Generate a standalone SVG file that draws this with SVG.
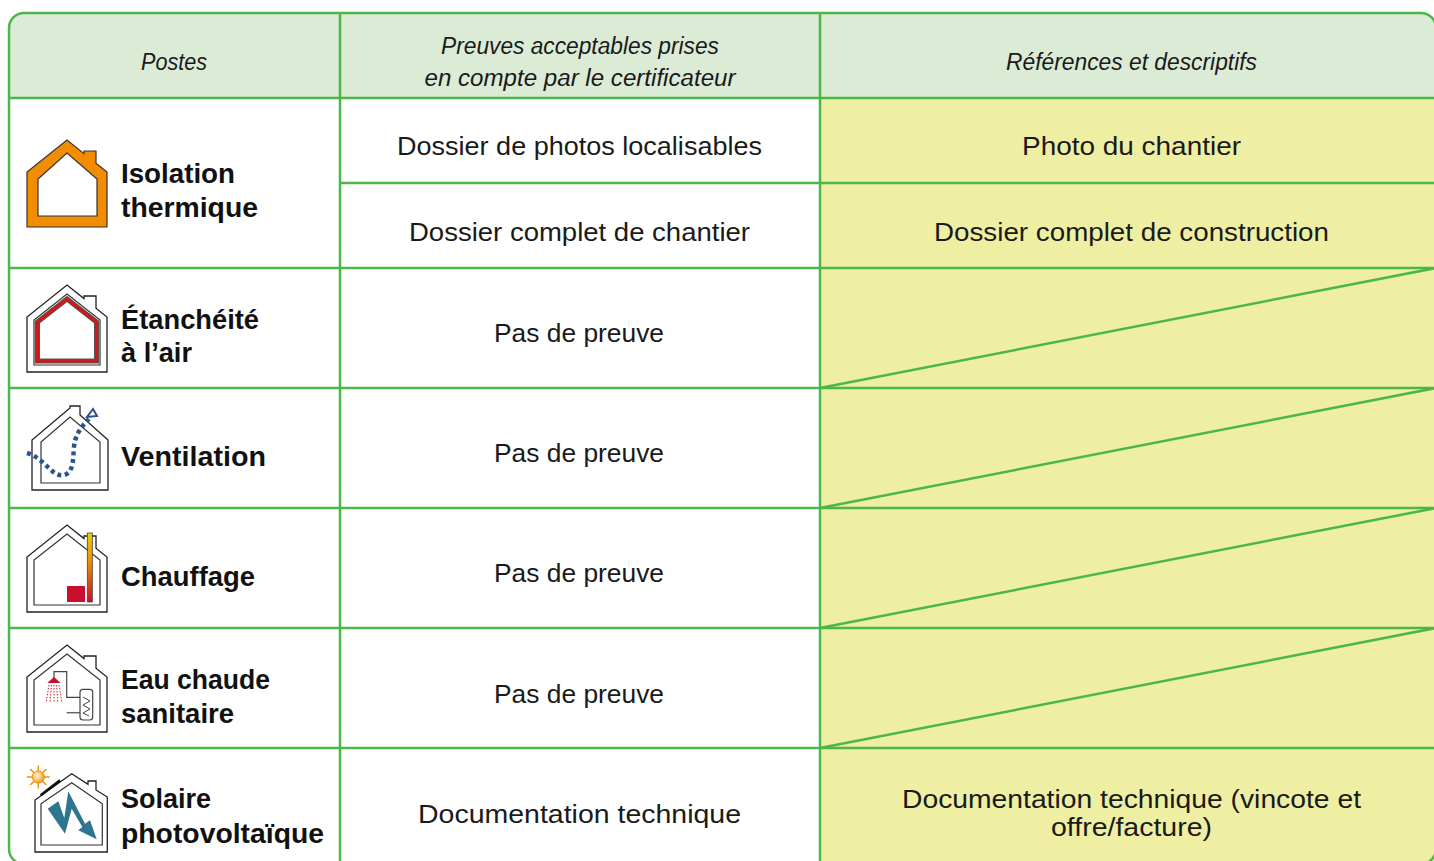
<svg xmlns="http://www.w3.org/2000/svg" width="1434" height="861" viewBox="0 0 1434 861">
<style>
.g{stroke:#4cb748;stroke-width:2.5;fill:none}
.h{font-family:"Liberation Sans",Arial,sans-serif;font-style:italic;font-size:23px;fill:#1a1a1a;text-anchor:middle}
.t{font-family:"Liberation Sans",Arial,sans-serif;font-size:26px;fill:#1a1a1a;text-anchor:middle}
.b{font-family:"Liberation Sans",Arial,sans-serif;font-weight:bold;font-size:27px;fill:#111}
.ho{fill:#fff;stroke:#222;stroke-width:1.3;stroke-linejoin:miter}
.hi{fill:none;stroke:#333;stroke-width:1.2}
</style>
<defs>
<linearGradient id="chem" x1="0" y1="0" x2="0" y2="1">
<stop offset="0" stop-color="#e6d400"/>
<stop offset="0.45" stop-color="#ef8a00"/>
<stop offset="1" stop-color="#c5102b"/>
</linearGradient>
<radialGradient id="sun" cx="0.4" cy="0.4" r="0.7">
<stop offset="0" stop-color="#fff6d0"/>
<stop offset="1" stop-color="#f08c00"/>
</radialGradient>
</defs>
<rect width="1434" height="861" fill="#fff"/>
<g id="table">
<path d="M9,98 V28 Q9,13 24,13 H1421 Q1436,13 1436,28 V98 Z" fill="#dbebd6"/>
<rect x="820" y="98" width="616" height="766" fill="#eeefa3"/>
</g>
<g id="connectors" class="g">
<rect x="9" y="13" width="1427" height="851" rx="15"/>
<line x1="340" y1="13" x2="340" y2="864"/>
<line x1="820" y1="13" x2="820" y2="864"/>
<line x1="9" y1="98" x2="1436" y2="98"/>
<line x1="340" y1="183" x2="1436" y2="183"/>
<line x1="9" y1="268" x2="1436" y2="268"/>
<line x1="9" y1="388" x2="1436" y2="388"/>
<line x1="9" y1="508" x2="1436" y2="508"/>
<line x1="9" y1="628" x2="1436" y2="628"/>
<line x1="9" y1="748" x2="1436" y2="748"/>
<line x1="820" y1="388" x2="1436" y2="268"/>
<line x1="820" y1="508" x2="1436" y2="388"/>
<line x1="820" y1="628" x2="1436" y2="508"/>
<line x1="820" y1="748" x2="1436" y2="628"/>
</g>
<g id="header">
<text class="h" x="174" y="70" textLength="66" lengthAdjust="spacingAndGlyphs">Postes</text>
<text class="h" x="580" y="54" textLength="278" lengthAdjust="spacingAndGlyphs">Preuves acceptables prises</text>
<text class="h" x="580" y="86" textLength="311" lengthAdjust="spacingAndGlyphs">en compte par le certificateur</text>
<text class="h" x="1131.5" y="70" textLength="251" lengthAdjust="spacingAndGlyphs">Références et descriptifs</text>
</g>
<g id="row-isolation">
<path fill="#f28c00" fill-rule="evenodd" stroke="#333" stroke-width="1.2" d="M27,227 V172 L67,140 L84,153.6 V151 H96 V163.2 L107,172 V227 Z M38,216 V179 L67,153 L97,179 V216 Z"/>
<text class="b" x="121" y="183" textLength="114" lengthAdjust="spacingAndGlyphs">Isolation</text>
<text class="b" x="121" y="217" textLength="137" lengthAdjust="spacingAndGlyphs">thermique</text>
<text class="t" x="579.5" y="155" textLength="365" lengthAdjust="spacingAndGlyphs">Dossier de photos localisables</text>
<text class="t" x="1131.5" y="155" textLength="219" lengthAdjust="spacingAndGlyphs">Photo du chantier</text>
<text class="t" x="579.5" y="241" textLength="341" lengthAdjust="spacingAndGlyphs">Dossier complet de chantier</text>
<text class="t" x="1131.5" y="241" textLength="395" lengthAdjust="spacingAndGlyphs">Dossier complet de construction</text>
</g>
<g id="row-etancheite">
<path class="ho" d="M27,372 V317 L67,285 L84,298.6 V296 H96 V308.2 L107,317 V372 Z"/>
<path class="hi" d="M34,365 V320 L67,294 L100,320 V365 Z"/>
<path fill="none" stroke="#555" stroke-width="5" d="M37.5,361 V322 L67,299 L96.5,322 V361 Z"/>
<path fill="none" stroke="#cc1a1a" stroke-width="3.2" d="M37.5,361 V322 L67,299 L96.5,322 V361 Z"/>
<text class="b" x="121" y="329" textLength="138" lengthAdjust="spacingAndGlyphs">Étanchéité</text>
<text class="b" x="121" y="362" textLength="71" lengthAdjust="spacingAndGlyphs">à l’air</text>
<text class="t" x="579" y="342" textLength="170" lengthAdjust="spacingAndGlyphs">Pas de preuve</text>
</g>
<g id="row-ventilation">
<path class="ho" d="M32,490 V440 L70,408 V406 H80 V415 L108,440 V490 Z"/>
<path class="hi" d="M41,483 V442 L70,417 L100,442 V483 Z"/>
<path fill="none" stroke="#2a5490" stroke-width="4.5" stroke-dasharray="4 3.5" d="M27,453 C45,458 52,478 64,475 C76,472 72,452 75,441 C78,430 84,424 89,419"/>
<polygon points="93,409 87,417 97,416" fill="#fff" stroke="#2a5490" stroke-width="2"/>
<text class="b" x="121" y="466" textLength="145" lengthAdjust="spacingAndGlyphs">Ventilation</text>
<text class="t" x="579" y="462" textLength="170" lengthAdjust="spacingAndGlyphs">Pas de preuve</text>
</g>
<g id="row-chauffage">
<path class="ho" d="M27,612 V557 L67,525 L84,538.6 V536 H96 V548.2 L107,557 V612 Z"/>
<path class="hi" d="M34,605 V560 L67,534 L100,560 V605 Z"/>
<rect x="67" y="586" width="18" height="16" fill="#c8102e"/>
<rect x="87.3" y="533" width="5" height="69" fill="url(#chem)" stroke="#444" stroke-width="0.8"/>
<text class="b" x="121" y="586" textLength="134" lengthAdjust="spacingAndGlyphs">Chauffage</text>
<text class="t" x="579" y="582" textLength="170" lengthAdjust="spacingAndGlyphs">Pas de preuve</text>
</g>
<g id="row-eau-chaude">
<path class="ho" d="M27,732 V677 L67,645 L84,658.6 V656 H96 V668.2 L107,677 V732 Z"/>
<path class="hi" d="M34,725 V680 L67,654 L100,680 V725 Z"/>
<polyline points="54,678 54,671.7 66.7,671.7 66.7,697.3 80,697.3" fill="none" stroke="#444" stroke-width="1.2"/>
<line x1="66.7" y1="712.7" x2="80" y2="712.7" stroke="#666" stroke-width="1.5"/>
<rect x="80" y="689.3" width="12.7" height="30.7" rx="3" fill="#fff" stroke="#444" stroke-width="1.2"/>
<polyline points="83,697 90,701 83,705 90,709 83,713 89,716" fill="none" stroke="#444" stroke-width="1"/>
<polygon points="47.3,683 60.7,683 54,677" fill="#c8102e"/>
<g stroke="#d2202e" stroke-width="1" stroke-dasharray="1.5 1.5">
<line x1="49" y1="685" x2="46" y2="703"/>
<line x1="51.5" y1="685" x2="50" y2="703"/>
<line x1="54" y1="685" x2="54" y2="703"/>
<line x1="56.5" y1="685" x2="58" y2="703"/>
<line x1="59" y1="685" x2="62" y2="703"/>
</g>
<text class="b" x="121" y="689" textLength="149" lengthAdjust="spacingAndGlyphs">Eau chaude</text>
<text class="b" x="121" y="723" textLength="113" lengthAdjust="spacingAndGlyphs">sanitaire</text>
<text class="t" x="579" y="703" textLength="170" lengthAdjust="spacingAndGlyphs">Pas de preuve</text>
</g>
<g id="row-solaire">
<path class="ho" d="M35,852 V800 L71.7,773.7 L88,784.3 V781 H96 V790 L107.3,797 V852 Z"/>
<path class="hi" d="M41,845 V803.7 L71.7,782.7 L102.3,803.7 V845 Z"/>
<line x1="40.7" y1="795.3" x2="60" y2="780.3" stroke="#111" stroke-width="2.6"/>
<g stroke="#f08c00" stroke-width="1.4">
<line x1="38.3" y1="765.5" x2="38.3" y2="788.5"/>
<line x1="26.8" y1="777" x2="49.8" y2="777"/>
<line x1="30.2" y1="768.9" x2="46.4" y2="785.1"/>
<line x1="30.2" y1="785.1" x2="46.4" y2="768.9"/>
</g>
<circle cx="38.3" cy="777" r="6.2" fill="url(#sun)" stroke="#e07a00" stroke-width="0.6"/>
<polygon points="47.7,808.7 58.3,801.3 64.3,818 68.3,791.3 85,823.7 90,820.3 96.7,839.3 78.3,830.3 82.3,827 71.7,808.7 65,833.7" fill="#2e7590"/>
<text class="b" x="121" y="808" textLength="90" lengthAdjust="spacingAndGlyphs">Solaire</text>
<text class="b" x="121" y="843" textLength="203" lengthAdjust="spacingAndGlyphs">photovoltaïque</text>
<text class="t" x="579.5" y="823" textLength="323" lengthAdjust="spacingAndGlyphs">Documentation technique</text>
<text class="t" x="1131.5" y="808" textLength="459" lengthAdjust="spacingAndGlyphs">Documentation technique (vincote et</text>
<text class="t" x="1131.5" y="836" textLength="161" lengthAdjust="spacingAndGlyphs">offre/facture)</text>
</g>
</svg>
